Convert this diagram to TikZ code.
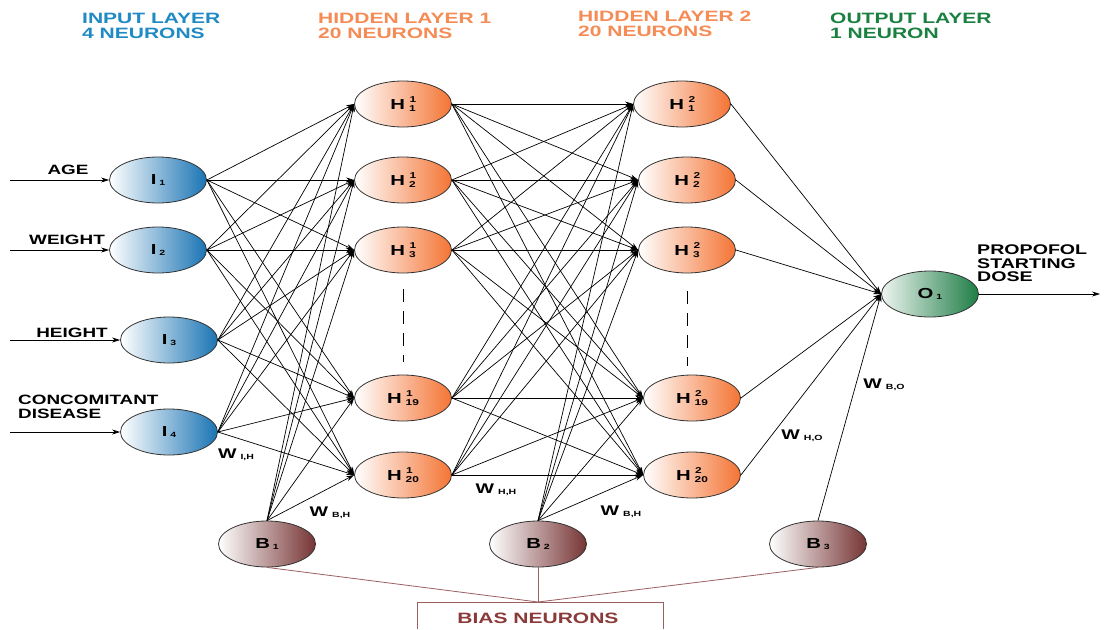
\documentclass[tikz,border=0pt]{standalone}
\usepackage{fontspec}
\setmainfont{Liberation Sans}[FakeStretch=1.4]
\usetikzlibrary{shapes.geometric,arrows.meta}
\definecolor{inblue}{HTML}{1A74B4}
\definecolor{hdblue}{HTML}{1F8AC4}
\definecolor{horange}{HTML}{F47434}
\definecolor{hdorange}{HTML}{F58B55}
\definecolor{ogreen}{HTML}{1E7D45}
\definecolor{hdgreen}{HTML}{1A8040}
\definecolor{bmaroon}{HTML}{763434}
\definecolor{bline}{HTML}{9B5F5F}
\definecolor{btext}{HTML}{8B3A3A}
\newcommand\ilab[2]{#1\hspace{3pt}{\fontsize{7.5}{7.5}\selectfont\raisebox{-1.5pt}{#2}}}
\newcommand\hlab[2]{H\hspace{4pt}{\fontsize{8.5}{8.5}\selectfont\rlap{\hspace{0.5pt}\raisebox{7.5pt}{#1}}\raisebox{-1.5pt}{#2}}}
\newcommand\wlab[1]{{\fontsize{14}{14}\selectfont W}\hspace{4pt}{\fontsize{7.5}{7.5}\selectfont\raisebox{-1pt}{#1}}}
\begin{document}
\begin{tikzpicture}[x=1pt,y=-1pt,
  neuron/.style={ellipse, draw=black!80, line width=0.8pt, minimum width=97pt, minimum height=46pt, inner sep=0pt, font=\fontsize{14.5}{14.5}\selectfont\bfseries},
  inn/.style={neuron, left color=white, right color=inblue},
  hid/.style={neuron, left color=white, right color=horange},
  outn/.style={neuron, left color=ogreen!8, right color=ogreen},
  bias/.style={neuron, left color=white, right color=bmaroon},
  conn/.style={line width=0.7pt, -{Stealth[length=8pt,width=5pt]}},
  lbl/.style={font=\fontsize{13.5}{14}\selectfont\bfseries, align=left, inner sep=0pt},
  hdr/.style={font=\fontsize{15}{14.5}\selectfont\bfseries, align=left, anchor=north west, inner sep=0pt},
  wl/.style={font=\bfseries, inner sep=0pt}]
\useasboundingbox (0,0) rectangle (1105,629);
\fill[white] (0,0) rectangle (1105,629);
% headers
\node[hdr, text=hdblue] (t1) at (82,13) {INPUT LAYER\\4 NEURONS};
\node[hdr, text=hdorange] (t2) at (318,13) {HIDDEN LAYER 1\\20 NEURONS};
\node[hdr, text=hdorange] (t3) at (578,11) {HIDDEN LAYER 2\\20 NEURONS};
\node[hdr, text=hdgreen] (t4) at (830,13) {OUTPUT LAYER\\1 NEURON};
% input neurons
\node[inn] (I1) at (158,180) {\ilab{I}{1}};
\node[inn] (I2) at (158,250) {\ilab{I}{2}};
\node[inn] (I3) at (169,340) {\ilab{I}{3}};
\node[inn] (I4) at (169,432) {\ilab{I}{4}};
% hidden layer 1
\node[hid] (A1) at (403,104) {\hlab{1}{1}};
\node[hid] (A2) at (403,180) {\hlab{1}{2}};
\node[hid] (A3) at (403,250) {\hlab{1}{3}};
\node[hid] (A19) at (403,398) {\hlab{1}{19}};
\node[hid] (A20) at (403,475) {\hlab{1}{20}};
% hidden layer 2
\node[hid] (C1) at (682,104) {\hlab{2}{1}};
\node[hid] (C2) at (687,180) {\hlab{2}{2}};
\node[hid] (C3) at (687,250) {\hlab{2}{3}};
\node[hid] (C19) at (692,398) {\hlab{2}{19}};
\node[hid] (C20) at (692,475) {\hlab{2}{20}};
% output
\node[outn] (O1) at (930,294) {\ilab{O}{1}};
% bias
\node[bias] (B1) at (267,544) {\ilab{B}{1}};
\node[bias] (B2) at (538,544) {\ilab{B}{2}};
\node[bias] (B3) at (818,544) {\ilab{B}{3}};
% dashes
\draw[line width=0.8pt, dash pattern=on 13pt off 9pt] (403,289) -- (403,362);
\draw[line width=0.8pt, dash pattern=on 13pt off 9pt] (687,291) -- (687,366);
% input arrows
\coordinate (s1) at (10,180);
\coordinate (s2) at (10,250);
\coordinate (s3) at (10,340);
\coordinate (s4) at (10,432);
\draw[conn] (s1) -- (I1.west);
\draw[conn] (s2) -- (I2.west);
\draw[conn] (s3) -- (I3.west);
\draw[conn] (s4) -- (I4.west);
\node[lbl, anchor=base] (lage) at (68,174) {AGE};
\node[lbl, anchor=base] (lwe) at (67,244) {WEIGHT};
\node[lbl, anchor=base] (lhe) at (72,337) {HEIGHT};
\node[lbl, anchor=north west] (lcd) at (18,395) {CONCOMITANT\\DISEASE};
% input -> hidden1
\foreach \i in {I1,I2,I3,I4}{
  \foreach \h in {A1,A2,A3,A19,A20}{
    \draw[conn] (\i.east) -- (\h.west);
  }
}
\foreach \h in {A1,A2,A3,A19,A20}{
  \draw[conn] (B1.north) -- (\h.west);
}
% hidden1 -> hidden2
\foreach \i in {A1,A2,A3,A19,A20}{
  \foreach \h in {C1,C2,C3,C19,C20}{
    \draw[conn] (\i.east) -- (\h.west);
  }
}
\foreach \h in {C1,C2,C3,C19,C20}{
  \draw[conn] (B2.north) -- (\h.west);
}
% hidden2 -> output
\foreach \i in {C1,C2,C3,C19,C20}{
  \draw[conn] (\i.east) -- (O1.west);
}
\draw[conn] (B3.north) -- (O1.west);
% output arrow
\coordinate (oe) at (1100,294);
\draw[conn] (O1.east) -- (oe);
\node[lbl, anchor=north west, font=\fontsize{14}{13.5}\selectfont\bfseries] (lpd) at (977,245) {PROPOFOL\\STARTING\\DOSE};
% weight labels
\node[wl] (w1) at (236,455) {\wlab{I,H}};
\node[wl] (w2) at (330,513) {\wlab{B,H}};
\node[wl] (w3) at (496,490) {\wlab{H,H}};
\node[wl] (w4) at (621,512) {\wlab{B,H}};
\node[wl] (w5) at (802,436) {\wlab{H,O}};
\node[wl] (w6) at (884,385) {\wlab{B,O}};
% bias box
\coordinate (bj) at (538,602);
\draw[bline, line width=0.8pt] (B1.south) -- (bj);
\draw[bline, line width=0.8pt] (B2.south) -- (bj);
\draw[bline, line width=0.8pt] (B3.south) -- (bj);
\draw[bline, line width=0.8pt] (417,629) |- (663,602) -- (663,629);
\node[font=\fontsize{15}{15}\selectfont\bfseries, text=btext, inner sep=0pt] (bn) at (538,618) {BIAS NEURONS};
\end{tikzpicture}
\end{document}
